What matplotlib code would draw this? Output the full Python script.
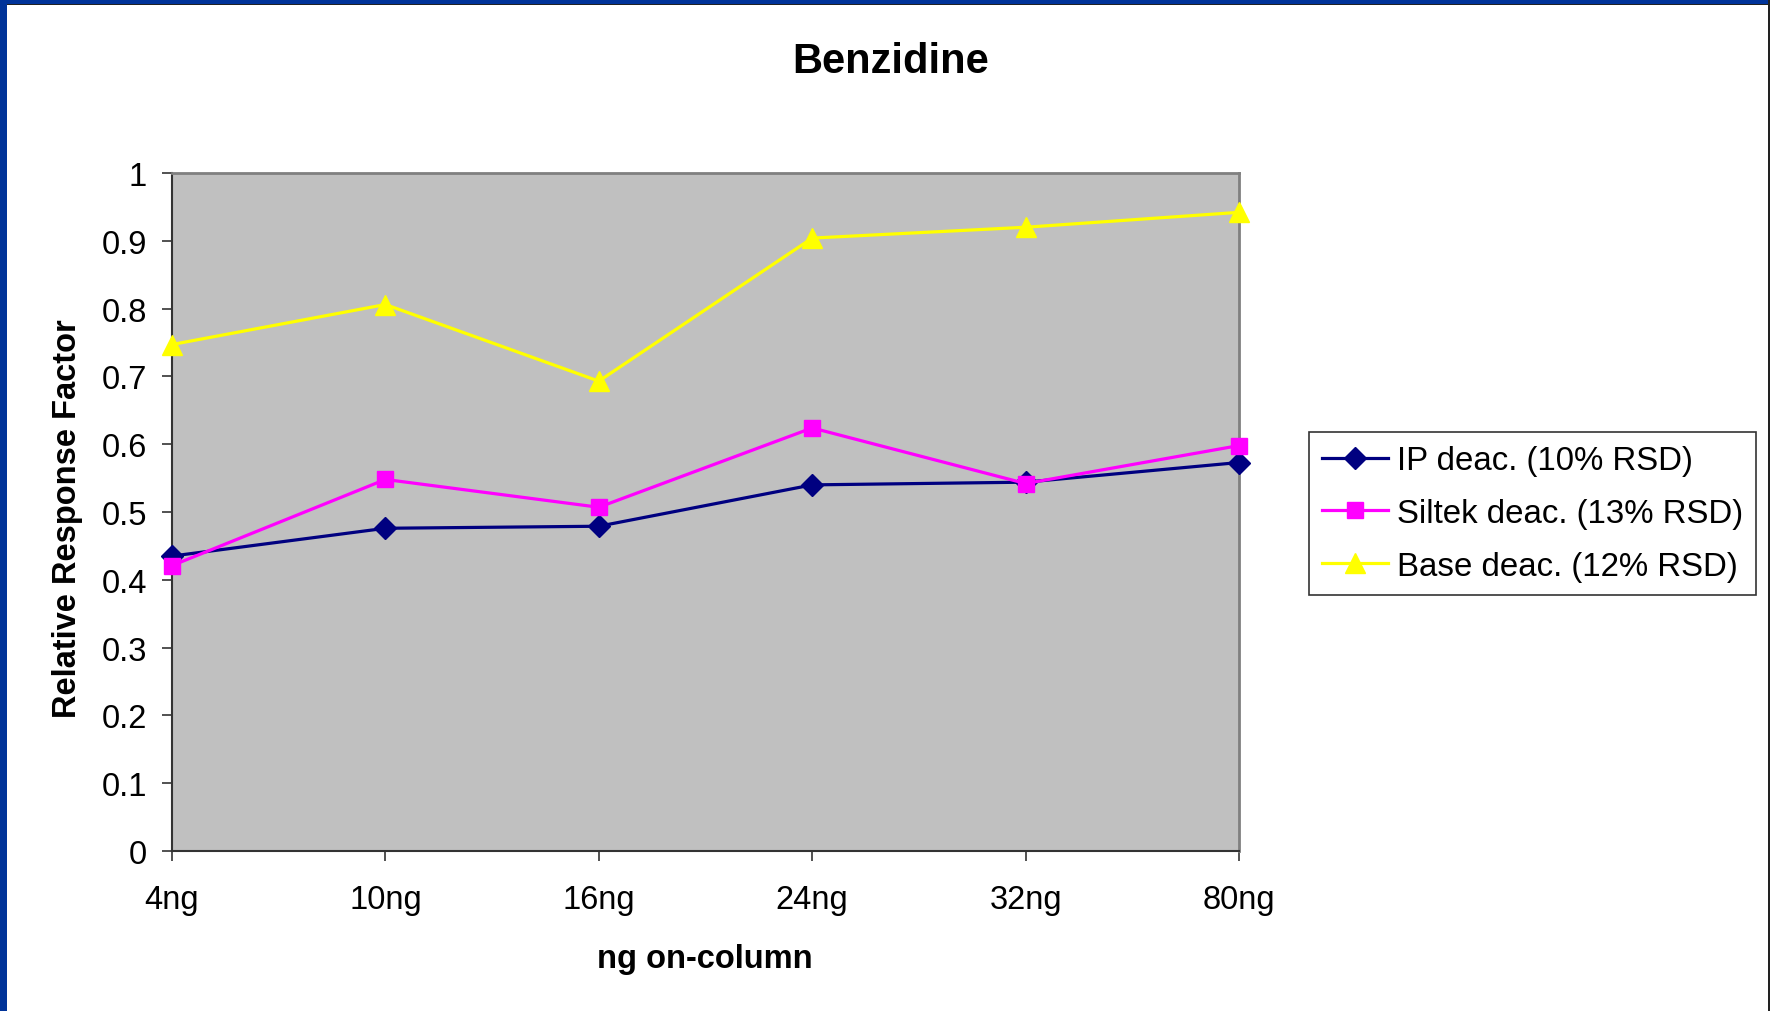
import matplotlib
matplotlib.use("Agg")
import matplotlib.pyplot as plt
from matplotlib.patches import Rectangle
from matplotlib.ticker import FuncFormatter

plt.rcParams['font.family'] = ['Liberation Sans', 'DejaVu Sans']

# -------------------- DATA --------------------
amounts = ["4ng", "10ng", "16ng", "24ng", "32ng", "80ng"]
ip_deac = [0.435, 0.476, 0.479, 0.540, 0.544, 0.573]
siltek_deac = [0.421, 0.548, 0.507, 0.624, 0.542, 0.598]
base_deac = [0.747, 0.806, 0.693, 0.904, 0.920, 0.942]
y_ticks = [0, 0.1, 0.2, 0.3, 0.4, 0.5, 0.6, 0.7, 0.8, 0.9, 1]

# -------------------- FIGURE --------------------
W, H = 1770, 1012
fig = plt.figure(figsize=(W / 100, H / 100), dpi=100)
fig.patch.set_facecolor("white")

# slide frame: blue strips on the left and top, thin dark line on the right
fig.patches.append(Rectangle((0, 0), 7 / W, 1, transform=fig.transFigure,
                             facecolor="#003399", edgecolor="none", zorder=0))
fig.patches.append(Rectangle((0, 1 - 5 / H), 1, 5 / H, transform=fig.transFigure,
                             facecolor="#003399", edgecolor="none", zorder=0))
fig.patches.append(Rectangle((7 / W, 1 - 6 / H), 1, 1 / H, transform=fig.transFigure,
                             facecolor="#222222", edgecolor="none", zorder=0))
fig.patches.append(Rectangle((1 - 2 / W, 0), 2 / W, 1, transform=fig.transFigure,
                             facecolor="#222222", edgecolor="none", zorder=0))

ax_l, ax_r, ax_t, ax_b = 172, 1239, 174, 852
ax = fig.add_axes([ax_l / W, 1 - ax_b / H, (ax_r - ax_l) / W, (ax_b - ax_t) / H])
ax.set_facecolor("#C0C0C0")

x = list(range(len(amounts)))
ax.plot(x, ip_deac, color="#000080", lw=2.3, marker="D", markersize=11,
        label="IP deac. (10% RSD)", clip_on=False, zorder=3)
ax.plot(x, siltek_deac, color="#FF00FF", lw=2.3, marker="s", markersize=12,
        label="Siltek deac. (13% RSD)", clip_on=False, zorder=4)
ax.plot(x, base_deac, color="#FFFF00", lw=2.3, marker="^", markersize=15,
        label="Base deac. (12% RSD)", clip_on=False, zorder=3)

# -------------------- AXES --------------------
ax.set_xlim(0, len(amounts) - 1)
ax.set_ylim(0, 1)
ax.set_xticks(x)
ax.set_xticklabels(amounts)
ax.set_yticks(y_ticks)
ax.yaxis.set_major_formatter(FuncFormatter(lambda v, p: "%g" % v))
ax.tick_params(axis="both", direction="out", length=7, width=1.2,
               color="#333333", labelsize=23.5)
ax.tick_params(axis="y", pad=11)
ax.tick_params(axis="x", pad=17)

for side in ["left", "bottom"]:
    ax.spines[side].set_color("#333333")
    ax.spines[side].set_linewidth(1.5)
for side in ["top", "right"]:
    ax.spines[side].set_color("#808080")
    ax.spines[side].set_linewidth(2)

# -------------------- TEXT --------------------
fig.text(891 / W, 1 - 62 / H, "Benzidine", ha="center", va="center",
         fontsize=30, fontweight="bold")
fig.text(68 / W, 1 - 519 / H, "Relative Response Factor", ha="center",
         va="center", rotation=90, fontsize=23.5, fontweight="bold")
fig.text(705 / W, 1 - 960 / H, "ng on-column", ha="center", va="center",
         fontsize=23.5, fontweight="bold")

# -------------------- LEGEND --------------------
leg = fig.legend(loc="upper left", bbox_to_anchor=(1309 / W, 1 - 433 / H),
                 bbox_transform=fig.transFigure, fontsize=23.8, frameon=True,
                 fancybox=False, edgecolor="#333333", framealpha=1,
                 handlelength=2.0, handletextpad=0.25, labelspacing=0.66,
                 borderpad=0.4, borderaxespad=0, numpoints=1)
leg.get_frame().set_linewidth(1.2)

fig.savefig("out.png", dpi=100)
